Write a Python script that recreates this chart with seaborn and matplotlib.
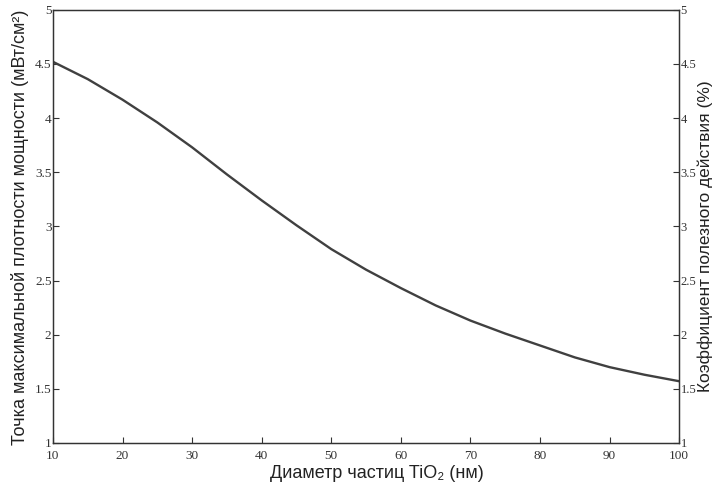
import matplotlib
matplotlib.use("Agg")
import matplotlib.pyplot as plt
import seaborn as sns
import pandas as pd

diameter_nm = [10, 15, 20, 25, 30, 35, 40, 45, 50, 55, 60, 65, 70, 75, 80, 85, 90, 95, 100]
power_density = [4.52, 4.36, 4.17, 3.96, 3.73, 3.48, 3.24, 3.01, 2.79, 2.60, 2.43, 2.27, 2.13,
                 2.01, 1.90, 1.79, 1.70, 1.63, 1.57]
x_ticks = [10, 20, 30, 40, 50, 60, 70, 80, 90, 100]
y_ticks = [1, 1.5, 2, 2.5, 3, 3.5, 4, 4.5, 5]
y_tick_labels = ["1", "1.5", "2", "2.5", "3", "3.5", "4", "4.5", "5"]

sns.set_style("ticks")
plt.rcParams['font.family'] = ['Liberation Sans', 'DejaVu Sans']

df = pd.DataFrame({"d": diameter_nm, "p": power_density})

fig = plt.figure(figsize=(7.15, 4.9), dpi=100)
ax = fig.add_axes([0.074, 0.096, 0.876, 0.884])
sns.lineplot(data=df, x="d", y="p", ax=ax, color="#404040", linewidth=1.7)

ax.set_xlim(10, 100)
ax.set_ylim(1, 5)
ax.set_xticks(x_ticks)
ax.set_xticklabels([str(t) for t in x_ticks], family="Liberation Serif", fontsize=9.5)
ax.set_yticks(y_ticks)
ax.set_yticklabels(y_tick_labels, family="Liberation Serif", fontsize=9.5)
ax.tick_params(direction="in", length=4, width=0.8, color="#333333", labelcolor="#333333")
ax.tick_params(axis="y", pad=1)
ax.tick_params(axis="x", pad=5)

for s in ax.spines.values():
    s.set_visible(True)
    s.set_color("#333333")
    s.set_linewidth(0.9)

ax.set_xlabel("Диаметр частиц TiO₂ (нм)", fontsize=13, color="#222222",
              va="center", ha="center")
ax.xaxis.set_label_coords(0.518, -0.07)
ax.set_ylabel("Точка максимальной плотности мощности (мВт/см²)", fontsize=13, color="#222222",
              va="center", ha="center")
ax.yaxis.set_label_coords(-0.053, 0.497)

ax2 = ax.twinx()
ax2.set_ylim(1, 5)
ax2.set_yticks(y_ticks)
ax2.set_yticklabels(y_tick_labels, family="Liberation Serif", fontsize=9)
ax2.tick_params(direction="in", length=4, width=0.8, color="#333333", pad=1, labelcolor="#333333")
ax2.set_ylabel("Коэффициент полезного действия (%)", fontsize=12.5, color="#222222")
lbl = ax2.yaxis.label
lbl.set_rotation_mode("default")
lbl.set_va("center")
lbl.set_ha("center")
ax2.yaxis.set_label_coords(1.042, 0.478)
for s in ax2.spines.values():
    s.set_color("#333333")
    s.set_linewidth(0.9)

fig.savefig("out.png", dpi=100)
